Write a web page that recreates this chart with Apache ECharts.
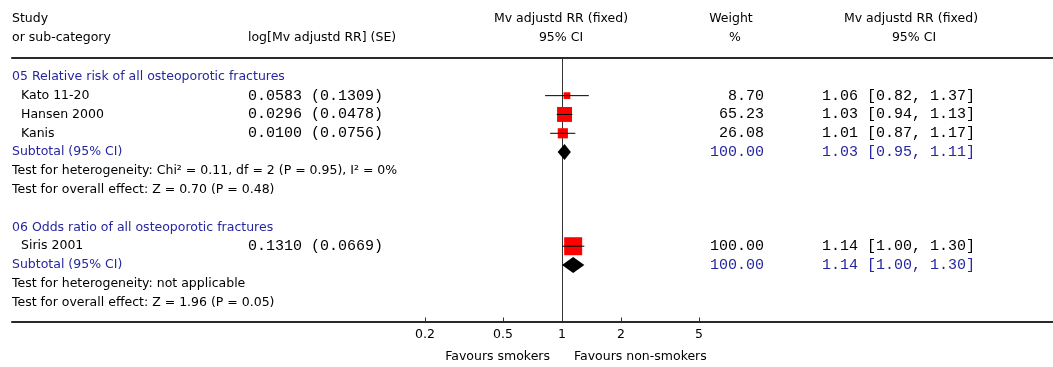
<!DOCTYPE html>
<html><head><meta charset="utf-8">
<script src="https://cdn.jsdelivr.net/npm/echarts@6/dist/echarts.min.js"></script>
<style>html,body{margin:0;padding:0;background:#fff}#chart{width:1053px;height:367px}</style>
</head><body><div id="chart"></div>
<script>
// ---- data ----
const groupTitles = ['05 Relative risk of all osteoporotic fractures', '06 Odds ratio of all osteoporotic fractures'];
const studyNames = ['Kato 11-20', 'Hansen 2000', 'Kanis', 'Siris 2001'];
const studyGroup = [0, 0, 0, 1];
const logRR = [0.0583, 0.0296, 0.0100, 0.1310];
const seLogRR = [0.1309, 0.0478, 0.0756, 0.0669];
const weights = [8.70, 65.23, 26.08, 100.00];
const rr = [1.06, 1.03, 1.01, 1.14];
const ciLow = [0.82, 0.94, 0.87, 1.00];
const ciHigh = [1.37, 1.13, 1.17, 1.30];
const subtotalLabel = 'Subtotal (95% CI)';
const subtotalWeight = [100.00, 100.00];
const subtotalRR = [1.03, 1.14];
const subtotalLow = [0.95, 1.00];
const subtotalHigh = [1.11, 1.30];
const heterogeneity = ['Test for heterogeneity: Chi\u00b2 = 0.11, df = 2 (P = 0.95), I\u00b2 = 0%', 'Test for heterogeneity: not applicable'];
const overallEffect = ['Test for overall effect: Z = 0.70 (P = 0.48)', 'Test for overall effect: Z = 1.96 (P = 0.05)'];
const tickValues = [0.2, 0.5, 1, 2, 5];
const favourLabels = ['Favours smokers', 'Favours non-smokers'];
const headerStudy = ['Study', 'or sub-category'];
const headerLog = 'log[Mv adjustd RR] (SE)';
const headerPlot = ['Mv adjustd RR (fixed)', '95% CI'];
const headerWeight = ['Weight', '%'];
const headerCI = ['Mv adjustd RR (fixed)', '95% CI'];

// ---- style / layout ----
const SANS = 'DejaVu Sans';
const MONO = 'Liberation Mono';
const SANS_SIZE = 12.5;
const MONO_SIZE = 15;
const BLUE = '#2626a0';
const GRID_LEFT = 12, GRID_RIGHT = 0, GRID_TOP = 58, GRID_BOTTOM = 45.5;
const X_NULL = 562, PX_PER_DECADE = 196, WIDTH = 1053;
const LOG_MIN = (GRID_LEFT - X_NULL) / PX_PER_DECADE;
const LOG_MAX = (WIDTH - GRID_RIGHT - X_NULL) / PX_PER_DECADE;
const COL_NAME = 21, COL_TITLE = 12, COL_LOG = 248, COL_WEIGHT = 764, COL_CI = 822;

// ---- rows ----
const rows = [];
let r = 1;
groupTitles.forEach((t, g) => {
  rows.push({ row: r++, kind: 'title', g });
  studyNames.forEach((n, i) => { if (studyGroup[i] === g) rows.push({ row: r++, kind: 'study', g, i }); });
  rows.push({ row: r++, kind: 'subtotal', g });
  rows.push({ row: r++, kind: 'het', g });
  rows.push({ row: r++, kind: 'overall', g });
  r++;
});
const totalRows = r - 1;
const rowOfStudy = {}; const rowOfSubtotal = {};
rows.forEach(o => { if (o.kind === 'study') rowOfStudy[o.i] = o.row; if (o.kind === 'subtotal') rowOfSubtotal[o.g] = o.row; });

const fmtCI = (m, l, h) => `${m.toFixed(2)} [${l.toFixed(2)}, ${h.toFixed(2)}]`;

function txt(x, y, text, font, size, color, align) {
  return { type: 'text', x: x, y: y, style: { text: text, fontFamily: font, fontSize: size, fill: color, align: align || 'left', verticalAlign: 'middle' } };
}

const studyData = studyNames.map((n, i) => [Math.log10(ciLow[i]), Math.log10(ciHigh[i]), Math.log10(rr[i]), rowOfStudy[i], weights[i]]);
const diamondData = subtotalRR.map((m, g) => [Math.log10(subtotalLow[g]), Math.log10(subtotalHigh[g]), Math.log10(m), rowOfSubtotal[g]]);
const textData = rows.map((o, k) => [0, o.row, k]);

const chart = echarts.init(document.getElementById('chart'), null, { renderer: 'canvas' });
const option = {
  animation: false,
  backgroundColor: '#fff',
  grid: { left: GRID_LEFT, right: GRID_RIGHT, top: GRID_TOP, bottom: GRID_BOTTOM, containLabel: false },
  xAxis: [{
    type: 'value', min: LOG_MIN, max: LOG_MAX, position: 'bottom',
    axisLine: { show: true, onZero: false, lineStyle: { color: '#2a2a2a', width: 2 } },
    axisTick: { show: true, inside: true, length: 4, customValues: tickValues.filter(v => v !== 1).map(v => Math.log10(v)), lineStyle: { color: '#333', width: 1 } },
    axisLabel: { show: true, customValues: tickValues.map(v => Math.log10(v)), formatter: v => String(+Math.pow(10, v).toPrecision(3)), fontFamily: SANS, fontSize: SANS_SIZE, color: '#000', margin: 7 },
    splitLine: { show: false }
  }, {
    type: 'value', min: LOG_MIN, max: LOG_MAX, position: 'top',
    axisLine: { show: true, onZero: false, lineStyle: { color: '#2a2a2a', width: 2 } },
    axisTick: { show: false }, axisLabel: { show: false }, splitLine: { show: false }
  }],
  yAxis: {
    type: 'value', inverse: true, min: 0, max: totalRows,
    axisLine: { show: true, onZero: true, onZeroAxisIndex: 0, lineStyle: { color: '#333', width: 1 } },
    axisTick: { show: false }, axisLabel: { show: false }, splitLine: { show: false }
  },
  graphic: [
    txt(COL_TITLE, 19, headerStudy[0], SANS, SANS_SIZE, '#000'),
    txt(COL_TITLE, 38, headerStudy[1], SANS, SANS_SIZE, '#000'),
    txt(COL_LOG, 38, headerLog, SANS, SANS_SIZE, '#000'),
    txt(561, 19, headerPlot[0], SANS, SANS_SIZE, '#000', 'center'),
    txt(561, 38, headerPlot[1], SANS, SANS_SIZE, '#000', 'center'),
    txt(731, 19, headerWeight[0], SANS, SANS_SIZE, '#000', 'center'),
    txt(735, 38, headerWeight[1], SANS, SANS_SIZE, '#000', 'center'),
    txt(911, 19, headerCI[0], SANS, SANS_SIZE, '#000', 'center'),
    txt(914, 38, headerCI[1], SANS, SANS_SIZE, '#000', 'center'),
    txt(550, 357, favourLabels[0], SANS, SANS_SIZE, '#000', 'right'),
    txt(574, 357, favourLabels[1], SANS, SANS_SIZE, '#000', 'left')
  ],
  series: [{
    type: 'custom', name: 'studies', clip: false, data: studyData,
    renderItem: function (params, api) {
      const row = api.value(3);
      const lo = api.coord([api.value(0), row]);
      const hi = api.coord([api.value(1), row]);
      const c = api.coord([api.value(2), row]);
      const s = 1.6 * Math.sqrt(api.value(4)) + 2;
      return { type: 'group', children: [
        { type: 'rect', shape: { x: c[0] - s / 2, y: c[1] - s / 2, width: s, height: s }, style: { fill: '#ff0000' } },
        { type: 'line', shape: { x1: lo[0], y1: lo[1], x2: hi[0], y2: hi[1] }, style: { stroke: '#000', lineWidth: 1 } }
      ] };
    }
  }, {
    type: 'custom', name: 'subtotals', clip: false, data: diamondData,
    renderItem: function (params, api) {
      const row = api.value(3);
      const lo = api.coord([api.value(0), row]);
      const hi = api.coord([api.value(1), row]);
      const c = api.coord([api.value(2), row]);
      const h = 8;
      return { type: 'polygon', shape: { points: [[lo[0], c[1]], [c[0], c[1] - h], [hi[0], c[1]], [c[0], c[1] + h]] }, style: { fill: '#000' } };
    }
  }, {
    type: 'custom', name: 'text', clip: false, data: textData, silent: true,
    renderItem: function (params, api) {
      const y = api.coord([0, api.value(1)])[1];
      const o = rows[api.value(2)];
      const ch = [];
      if (o.kind === 'title') ch.push(txt(COL_TITLE, y, groupTitles[o.g], SANS, SANS_SIZE, BLUE));
      else if (o.kind === 'study') {
        const i = o.i;
        ch.push(txt(COL_NAME, y, studyNames[i], SANS, SANS_SIZE, '#000'));
        ch.push(txt(COL_LOG, y, `${logRR[i].toFixed(4)} (${seLogRR[i].toFixed(4)})`, MONO, MONO_SIZE, '#000'));
        ch.push(txt(COL_WEIGHT, y, weights[i].toFixed(2), MONO, MONO_SIZE, '#000', 'right'));
        ch.push(txt(COL_CI, y, fmtCI(rr[i], ciLow[i], ciHigh[i]), MONO, MONO_SIZE, '#000'));
      } else if (o.kind === 'subtotal') {
        ch.push(txt(COL_TITLE, y, subtotalLabel, SANS, SANS_SIZE, BLUE));
        ch.push(txt(COL_WEIGHT, y, subtotalWeight[o.g].toFixed(2), MONO, MONO_SIZE, BLUE, 'right'));
        ch.push(txt(COL_CI, y, fmtCI(subtotalRR[o.g], subtotalLow[o.g], subtotalHigh[o.g]), MONO, MONO_SIZE, BLUE));
      } else if (o.kind === 'het') ch.push(txt(COL_TITLE, y, heterogeneity[o.g], SANS, SANS_SIZE, '#000'));
      else if (o.kind === 'overall') ch.push(txt(COL_TITLE, y, overallEffect[o.g], SANS, SANS_SIZE, '#000'));
      return { type: 'group', children: ch };
    }
  }]
};
chart.setOption(option);
</script></body></html>
